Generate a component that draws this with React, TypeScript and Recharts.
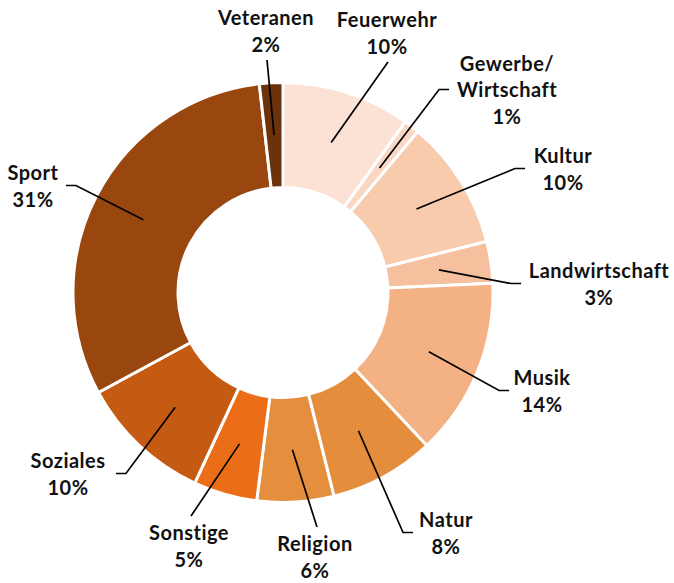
import React from "react";
import { PieChart, Pie, Cell } from "recharts";

const categories = [
  "Feuerwehr",
  "Gewerbe/ Wirtschaft",
  "Kultur",
  "Landwirtschaft",
  "Musik",
  "Natur",
  "Religion",
  "Sonstige",
  "Soziales",
  "Sport",
  "Veteranen",
];
const shares = [9.9, 1.2, 10.0, 3.2, 13.7, 8.1, 5.9, 4.9, 10.2, 31.1, 1.8];
const colors = [
  "#FBE2D4",
  "#FAD7C2",
  "#F8CBAD",
  "#F6C09E",
  "#F4B183",
  "#E48E3D",
  "#E58E3E",
  "#EB6D17",
  "#C55B12",
  "#99470E",
  "#6C320C",
];

// manual label placement (offset of label block centre from pie centre) and where the leader attaches
const labelLayout: { dx: number; dy: number; side: "top" | "bottom" | "left" | "right" }[] = [
  { dx: 104, dy: -260, side: "bottom" },
  { dx: 224, dy: -203, side: "left" },
  { dx: 280, dy: -124, side: "left" },
  { dx: 316, dy: -9, side: "left" },
  { dx: 259, dy: 98, side: "left" },
  { dx: 163, dy: 240, side: "left" },
  { dx: 32, dy: 264, side: "top" },
  { dx: -94, dy: 253, side: "top" },
  { dx: -215, dy: 181, side: "right" },
  { dx: -250, dy: -107, side: "right" },
  { dx: -17, dy: -262, side: "bottom" },
];

const data = categories.map((name, i) => ({ name, value: shares[i] }));

const RAD = Math.PI / 180;
const FONT = 20;
const SPACING = 0.5;
const LINE_H = 26.5;

function renderLabel(props: any) {
  const { cx, cy, midAngle, innerRadius, outerRadius, index, percent } = props;
  const r = (innerRadius + outerRadius) / 2;
  const px = cx + r * Math.cos(-midAngle * RAD);
  const py = cy + r * Math.sin(-midAngle * RAD);
  const lay = labelLayout[index];
  const lines = [...categories[index].split(" "), `${Math.round(percent * 100)}%`];
  const lx = cx + lay.dx;
  const ly = cy + lay.dy;
  const blockH = lines.length * LINE_H;
  const top = ly - blockH / 2;

  let pts: string;
  if (lay.side === "bottom") {
    pts = `${lx + 1},${top + blockH + 3} ${px},${py}`;
  } else if (lay.side === "top") {
    pts = `${lx + 2},${top - 3} ${px},${py}`;
  } else {
    const w = Math.max(...lines.map((l) => l.length)) * (FONT * 0.474 + SPACING);
    const sx = lay.side === "left" ? lx - w / 2 - 8 : lx + w / 2 + 8;
    const ex = lay.side === "left" ? sx - 10 : sx + 10;
    pts = `${sx},${ly} ${ex},${ly} ${px},${py}`;
  }

  return (
    <g key={`lbl-${index}`}>
      <polyline points={pts} fill="none" stroke="#000" strokeWidth={1.7} />
      <text
        x={lx}
        textAnchor="middle"
        fontFamily="Lato, 'Open Sans', sans-serif"
        fontWeight="bold"
        fontSize={FONT}
        letterSpacing={SPACING}
        fill="#111"
      >
        {lines.map((l, i) => (
          <tspan key={i} x={lx} y={top + LINE_H * i + LINE_H * 0.8}>
            {l}
          </tspan>
        ))}
      </text>
    </g>
  );
}

export default function App() {
  return (
    <div style={{ position: "absolute", left: 0, top: 0, background: "#fff" }}>
      <PieChart width={674} height={583} margin={{ top: 0, right: 0, bottom: 0, left: 0 }}>
        <Pie
          data={data}
          dataKey="value"
          nameKey="name"
          cx={283}
          cy={292.5}
          innerRadius={105}
          outerRadius={210}
          startAngle={90}
          endAngle={-270}
          stroke="#fff"
          strokeWidth={3}
          label={renderLabel}
          labelLine={false}
          isAnimationActive={false}
        >
          {data.map((d, i) => (
            <Cell key={d.name} fill={colors[i]} />
          ))}
        </Pie>
      </PieChart>
    </div>
  );
}
